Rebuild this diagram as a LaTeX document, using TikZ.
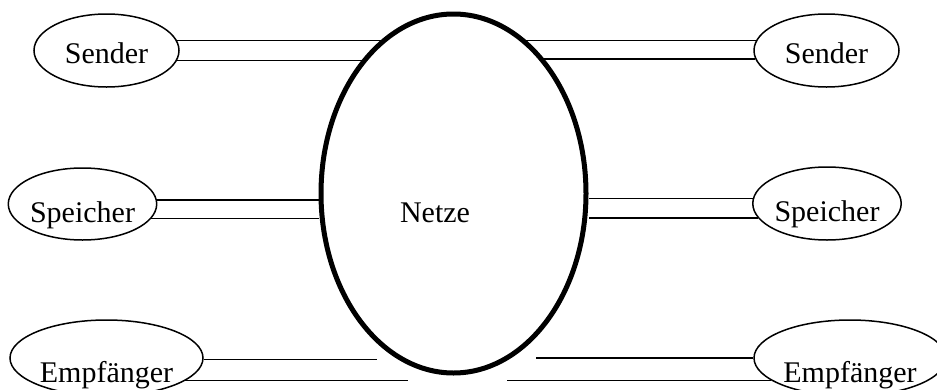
\documentclass[tikz,border=0pt]{standalone}
\usepackage{fontspec}
\setmainfont{Liberation Serif}
\usetikzlibrary{shapes.geometric}

\begin{document}
\begin{tikzpicture}[x=1pt,y=-1pt,
        nodo/.style={draw, ellipse, line width=1.5pt, inner sep=0pt, text depth=0pt,
                     font=\fontsize{30}{36}\selectfont},
        linea/.style={line width=1.5pt}]
        \useasboundingbox (0,0) rectangle (937,389);

        % Red central
        \node[draw, ellipse, line width=5pt, minimum width=265pt, minimum height=359pt] (netz) at (453.5,193.5) {};
        \node[anchor=base, font=\fontsize{30}{36}\selectfont] (netztxt) at (435,222) {Netze};

        % Nodos de la izquierda
        \node[nodo, minimum width=145pt, minimum height=73pt, text height=25pt] (sendL) at (106.5,50.5) {Sender};
        \node[nodo, minimum width=145pt, minimum height=72pt, text height=36pt] (speiL) at (82.5,204) {Speicher};
        \node[nodo, minimum width=193pt, minimum height=76pt, text height=48pt] (empfL) at (106.5,358) {Empfänger};

        % Nodos de la derecha
        \node[nodo, minimum width=145pt, minimum height=73pt, text height=25pt] (sendR) at (826.5,50.5) {Sender};
        \node[nodo, minimum width=144pt, minimum height=73pt, text height=36pt] (speiR) at (827,203.5) {Speicher};
        \node[nodo, minimum width=192pt, minimum height=76pt, text height=48pt] (empfR) at (850,358) {Empfänger};

        % Extremos libres de las lineas de abajo
        \coordinate (finLa) at (377,0);
        \coordinate (finLb) at (408,0);
        \coordinate (finRa) at (536,0);
        \coordinate (finRb) at (507,0);

        % Lineas dobles hacia la red
        \draw[linea] (sendL.8) -- (sendL.8 -| netz.114);
        \draw[linea] (sendL.-8) -- (sendL.-8 -| netz.124);
        \draw[linea] (sendR.172) -- (sendR.172 -| netz.66);
        \draw[linea] (sendR.-173) -- (sendR.-173 -| netz.57);
        \draw[linea] (speiL.3) -- (speiL.3 -| netz.west);
        \draw[linea] (speiL.-12) -- (speiL.-12 -| netz.west);
        \draw[linea] (speiR.176) -- (speiR.176 -| netz.east);
        \draw[linea] (speiR.-168) -- (speiR.-168 -| netz.east);
        \draw[linea] (empfL.-1) -- (empfL.-1 -| finLa);
        \draw[linea] (empfL.-16) -- (empfL.-16 -| finLb);
        \draw[linea] (empfR.180) -- (empfR.180 -| finRa);
        \draw[linea] (empfR.-164) -- (empfR.-164 -| finRb);
    \end{tikzpicture}
\end{document}
